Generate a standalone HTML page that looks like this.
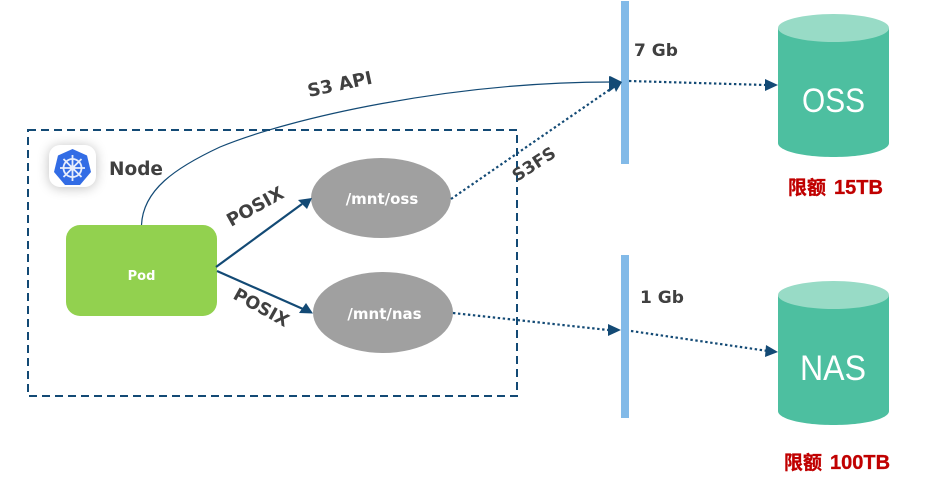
<!DOCTYPE html>
<html><head><meta charset="utf-8"><style>
html,body{margin:0;padding:0;background:#fff}
svg{display:block}
text{font-family:"DejaVu Sans","Noto Sans CJK SC",sans-serif;font-weight:bold}
text.c{font-family:"Liberation Sans","Noto Sans CJK SC",sans-serif;stroke:#c00000;stroke-width:.3}
text.t{font-family:"Liberation Sans",sans-serif;font-weight:normal}
</style></head><body>
<svg width="934" height="486" viewBox="0 0 934 486" xmlns="http://www.w3.org/2000/svg">
<defs>
<filter id="sh" x="-60%" y="-60%" width="220%" height="220%"><feGaussianBlur stdDeviation="6"/></filter>
</defs>
<rect x="28" y="130" width="489" height="266" fill="none" stroke="#134a75" stroke-width="2" stroke-dasharray="8 5"/>
<rect x="49" y="146" width="47" height="42" rx="11" fill="#000" opacity=".25" filter="url(#sh)"/>
<rect x="49" y="145" width="47" height="42" rx="11" fill="#fff"/>
<polygon points="72.500,149 87,155.500 91,172 80,185 65,185 54,172 58,155.500" fill="#326ce5"/>
<g stroke="#e8eefc" fill="none" stroke-width="1.800">
<circle cx="72.500" cy="168" r="9"/><circle cx="72.500" cy="168" r="2"/>
<path d="M72.500 155V181M60 168H85M63.500 159L81.500 177M81.500 159L63.500 177"/>
</g>
<text x="109" y="175" font-size="18.500" fill="#404040">Node</text>
<rect x="66" y="225" width="151" height="91" rx="14" fill="#92d14f"/>
<text x="141.500" y="280" font-size="13" fill="#fff" text-anchor="middle">Pod</text>
<ellipse cx="381" cy="198" rx="70" ry="40" fill="#a0a0a0"/>
<ellipse cx="383" cy="312.500" rx="70" ry="40.500" fill="#a0a0a0"/>
<text x="382" y="204" font-size="15" fill="#fff" text-anchor="middle">/mnt/oss</text>
<text x="384.500" y="319" font-size="15" fill="#fff" text-anchor="middle">/mnt/nas</text>
<rect x="621" y="1" width="8" height="163" fill="#82bae8"/>
<rect x="621" y="255" width="8" height="163" fill="#82bae8"/>
<path d="M141.500 225C143 190 175 168 220 147C290 118 450 82 612 82" fill="none" stroke="#134a75" stroke-width="1.200"/>
<polygon points="622,82 609,76 609,92" fill="#134a75"/>
<path d="M216 267L302 204" fill="none" stroke="#134a75" stroke-width="2.200"/>
<polygon points="312,198 298,200 307,209" fill="#134a75"/>
<path d="M217 271L303 309" fill="none" stroke="#134a75" stroke-width="2.200"/>
<polygon points="313,313.500 299,313 306,303" fill="#134a75"/>
<g fill="none" stroke="#134a75" stroke-width="2.200" stroke-dasharray="2.400 2.600">
<path d="M451 199L612 88"/>
<path d="M453 313L608 330"/>
<path d="M629 81L766 85"/>
<path d="M631 331L768 351"/>
</g>
<polygon points="622,82 610,76 616,92" fill="#134a75"/>
<polygon points="621,330 608,324 608,336" fill="#134a75"/>
<polygon points="778,85 765,79 765,91" fill="#134a75"/>
<polygon points="778,352 766,345 765,357" fill="#134a75"/>
<path d="M778 28V143C778 151 803 157 833.500 157S889 151 889 143V28Z" fill="#4dbfa0"/>
<ellipse cx="833.500" cy="28" rx="55.500" ry="14" fill="#98dbc6"/>
<path d="M778 295V411C778 419 803 425 833.500 425S889 419 889 411V295Z" fill="#4dbfa0"/>
<ellipse cx="833.500" cy="295" rx="55.500" ry="14" fill="#98dbc6"/>
<text class="t" x="802" y="112" font-size="34" fill="#fff" textLength="63" lengthAdjust="spacingAndGlyphs">OSS</text>
<text class="t" x="800" y="380" font-size="35" fill="#fff" textLength="66" lengthAdjust="spacingAndGlyphs">NAS</text>
<text x="634" y="56" font-size="17" fill="#404040">7 Gb</text>
<text x="640" y="303" font-size="17" fill="#404040">1 Gb</text>
<text class="c" y="194" font-size="19" fill="#c00000"><tspan x="788">限额</tspan><tspan x="834" font-size="20">15TB</tspan></text>
<text class="c" y="469" font-size="19" fill="#c00000"><tspan x="784">限额</tspan><tspan x="830" font-size="20">100TB</tspan></text>
<text transform="translate(309 97) rotate(-12)" font-size="18" fill="#404040">S3 API</text>
<text transform="translate(231 227) rotate(-29)" font-size="18" fill="#404040">POSIX</text>
<text transform="translate(232 298) rotate(29)" font-size="17.500" fill="#404040">POSIX</text>
<text transform="translate(517 182) rotate(-33)" font-size="17" fill="#404040">S3FS</text>
</svg>
</body></html>
